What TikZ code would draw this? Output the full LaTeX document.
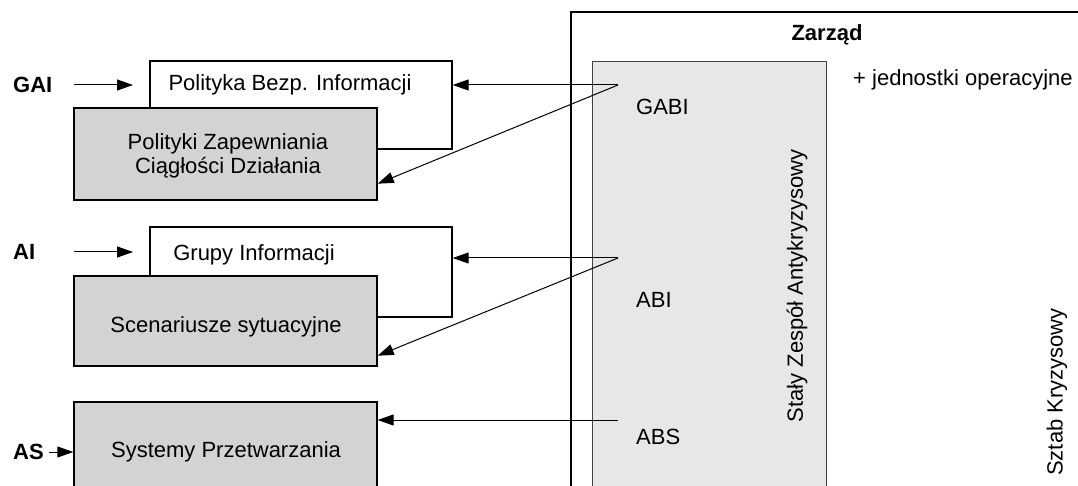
\documentclass[tikz,border=0pt]{standalone}
\usepackage{fontspec}
\setmainfont{Liberation Sans}
\usetikzlibrary{arrows.meta}
\definecolor{boxgrey}{HTML}{D1D3D4}
\definecolor{innergrey}{HTML}{E6E7E8}
\tikzset{
  wbox/.style={draw=black, line width=1.4pt, fill=white, inner sep=0pt},
  gbox/.style={draw=black, line width=1.4pt, fill=boxgrey, inner sep=0pt},
  txt/.style={font=\fontsize{22}{25}\selectfont, inner sep=0pt},
  btxt/.style={font=\fontsize{22}{25}\selectfont\bfseries, inner sep=0pt},
  arr/.style={line width=1pt, -{Triangle[length=16pt,width=11pt]}},
  ln/.style={line width=1pt}
}
\begin{document}
\begin{tikzpicture}[x=1pt,y=-1pt]
\clip (0,0) rectangle (1078,486);
\fill[white] (0,0) rectangle (1078,486);
% outer and inner frames
\node[draw=black, line width=1.6pt, fill=white, minimum width=560pt, minimum height=540pt, inner sep=0pt] (zarzad) at (851,282) {};
\node[draw=black!75, line width=1pt, fill=innergrey, minimum width=234pt, minimum height=480pt, inner sep=0pt] (szak) at (709,302) {};
\node[btxt] (zt) at (827,35) {Zarząd};
\node[txt, anchor=west] (jo) at (853,80) {+ jednostki operacyjne};
\node[txt, rotate=90] (szaktxt) at (797,286) {Stały Zespół Antykryzysowy};
\node[txt, rotate=90] (sk) at (1057,392) {Sztab Kryzysowy};
\node[txt, anchor=west] (gabi) at (636,107) {GABI};
\node[txt, anchor=west] (abi) at (636,300) {ABI};
\node[txt, anchor=west] (abs) at (636,437) {ABS};
% left boxes
\node[wbox, minimum width=302pt, minimum height=88pt] (pbi) at (301,105) {};
\node[txt] (pbitxt) at (290,85) {Polityka Bezp. Informacji};
\node[gbox, minimum width=303pt, minimum height=92pt] (pzcd) at (225.5,154) {};
\node[txt, align=center, font=\fontsize{22}{24}\selectfont] (pzcdtxt) at (228,156) {Polityki Zapewniania\\Ciągłości Działania};
\node[wbox, minimum width=302pt, minimum height=90pt] (gi) at (301,272) {};
\node[txt] (gitxt) at (254,255) {Grupy Informacji};
\node[gbox, minimum width=303pt, minimum height=90pt] (ss) at (225.5,321) {};
\node[txt] (sstxt) at (226,327) {Scenariusze sytuacyjne};
\node[gbox, minimum width=303pt, minimum height=120pt] (sp) at (225.5,462) {};
\node[txt] (sptxt) at (226,452) {Systemy Przetwarzania};
% left labels
\node[btxt, anchor=west] (gai) at (13,85) {GAI};
\node[btxt, anchor=west] (ai) at (13,252) {AI};
\node[btxt, anchor=west] (as) at (13,452) {AS};
\coordinate (gaiS) at (74,85);
\coordinate (gaiE) at (133,85);
\coordinate (aiS) at (74,252);
\coordinate (aiE) at (133,252);
\draw[arr] (gaiS) -- (gaiE);
\draw[arr] (aiS) -- (aiE);
\draw[arr] (as.east) ++(5pt,0) coordinate (asS) -- (sp.west |- as);
% connectors
\coordinate (g1) at (618,85);
\coordinate (a1) at (618,258);
\coordinate (s1) at (618,420);
\draw[arr] (g1) -- (pbi.east |- g1);
\draw[arr] (g1) -- ([yshift=17pt]pzcd.south east);
\draw[arr] (a1) -- (gi.east |- a1);
\draw[arr] (a1) -- ([yshift=11pt]ss.south east);
\draw[arr] (s1) -- (sp.east |- s1);
\end{tikzpicture}
\end{document}
